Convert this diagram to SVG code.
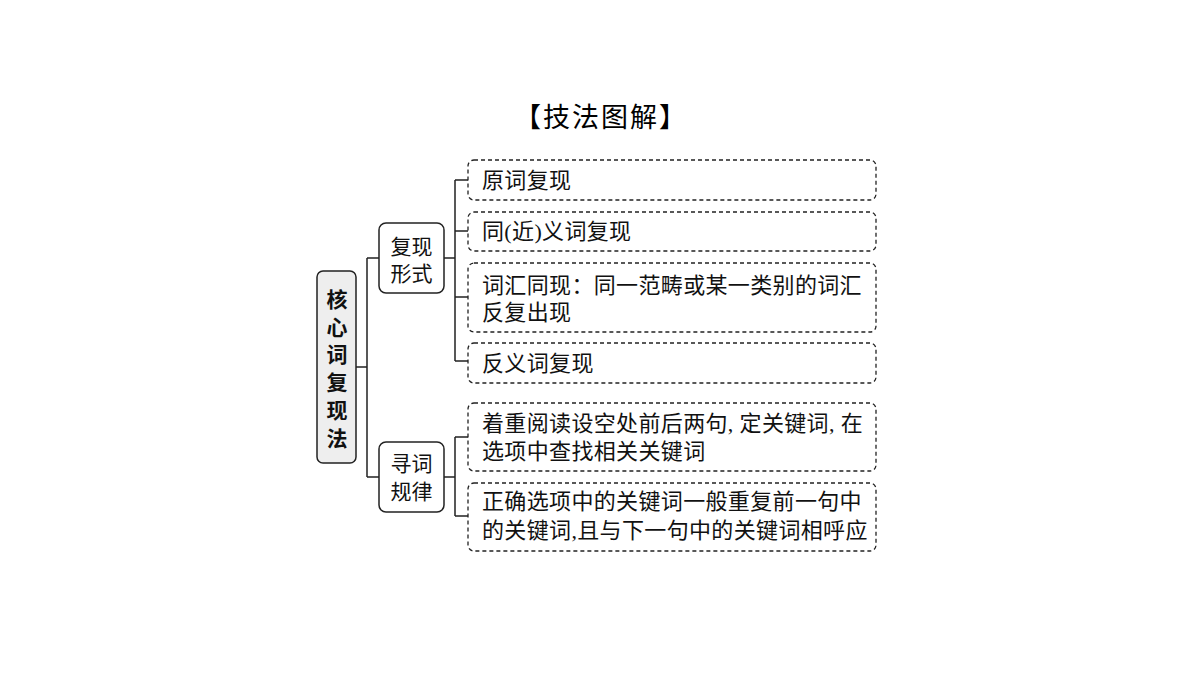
<svg xmlns="http://www.w3.org/2000/svg" width="1200" height="675" viewBox="0 0 1200 675">
<style>
.t{font-family:"Liberation Serif","Noto Sans CJK SC",serif;font-size:22px;fill:#111;letter-spacing:0.35px}
.title{font-family:"Liberation Serif","Noto Sans CJK SC",serif;font-size:27px;fill:#000;text-anchor:middle;letter-spacing:2px}
.root{fill:#eeeeee;stroke:#222;stroke-width:1.5}
.mid{fill:#fff;stroke:#222;stroke-width:1.5}
.leaf{fill:#fff;stroke:#222;stroke-width:1.3;stroke-dasharray:4 3}
.rt{font-family:"Liberation Serif","Noto Sans CJK SC",sans-serif;font-size:21px;font-weight:bold;fill:#111;text-anchor:middle}
.mt{font-family:"Liberation Serif","Noto Sans CJK SC",sans-serif;font-size:21px;fill:#111;text-anchor:middle}
.c{fill:none;stroke:#222;stroke-width:1.5}
</style>
<text class="title" x="601" y="127">【技法图解】</text>
<g id="connectors">
<path class="c" d="M356 367 H367 M367 258 V477 M367 258 H379 M367 477 H379"/>
<path class="c" d="M444 258 H455 M455 180 V361 M455 180 H468 M455 231 H468 M455 297 H468 M455 361 H468"/>
<path class="c" d="M444 477 H455 M455 437 V516 M455 437 H468 M455 516 H468"/>
</g>
<g id="root">
<rect class="root" x="317" y="271" width="39" height="192" rx="6"/>
<text class="rt" x="337" y="307">核</text>
<text class="rt" x="337" y="335">心</text>
<text class="rt" x="337" y="362">词</text>
<text class="rt" x="337" y="390">复</text>
<text class="rt" x="337" y="418">现</text>
<text class="rt" x="337" y="446">法</text>
</g>
<g id="mid1">
<rect class="mid" x="379" y="223" width="65" height="70" rx="7"/>
<text class="mt" x="411.5" y="254">复现</text>
<text class="mt" x="411.5" y="281">形式</text>
</g>
<g id="mid2">
<rect class="mid" x="379" y="442" width="65" height="70" rx="7"/>
<text class="mt" x="411.5" y="471">寻词</text>
<text class="mt" x="411.5" y="499">规律</text>
</g>
<g id="leaf1">
<rect class="leaf" x="468" y="160" width="408" height="40" rx="6"/>
<text class="t" x="482" y="188">原词复现</text>
</g>
<g id="leaf2">
<rect class="leaf" x="468" y="212" width="408" height="39" rx="6"/>
<text class="t" x="482" y="239">同(近)义词复现</text>
</g>
<g id="leaf3">
<rect class="leaf" x="468" y="263" width="408" height="69" rx="6"/>
<text class="t" x="482" y="293">词汇同现：同一范畴或某一类别的词汇</text>
<text class="t" x="482" y="320">反复出现</text>
</g>
<g id="leaf4">
<rect class="leaf" x="468" y="343" width="408" height="40" rx="6"/>
<text class="t" x="482" y="371">反义词复现</text>
</g>
<g id="leaf5">
<rect class="leaf" x="468" y="403" width="408" height="68" rx="6"/>
<text class="t" x="482" y="431">着重阅读设空处前后两句, 定关键词, 在</text>
<text class="t" x="482" y="459">选项中查找相关关键词</text>
</g>
<g id="leaf6">
<rect class="leaf" x="468" y="483" width="408" height="68" rx="6"/>
<text class="t" x="482" y="509">正确选项中的关键词一般重复前一句中</text>
<text class="t" x="482" y="538">的关键词,且与下一句中的关键词相呼应</text>
</g>
</svg>
